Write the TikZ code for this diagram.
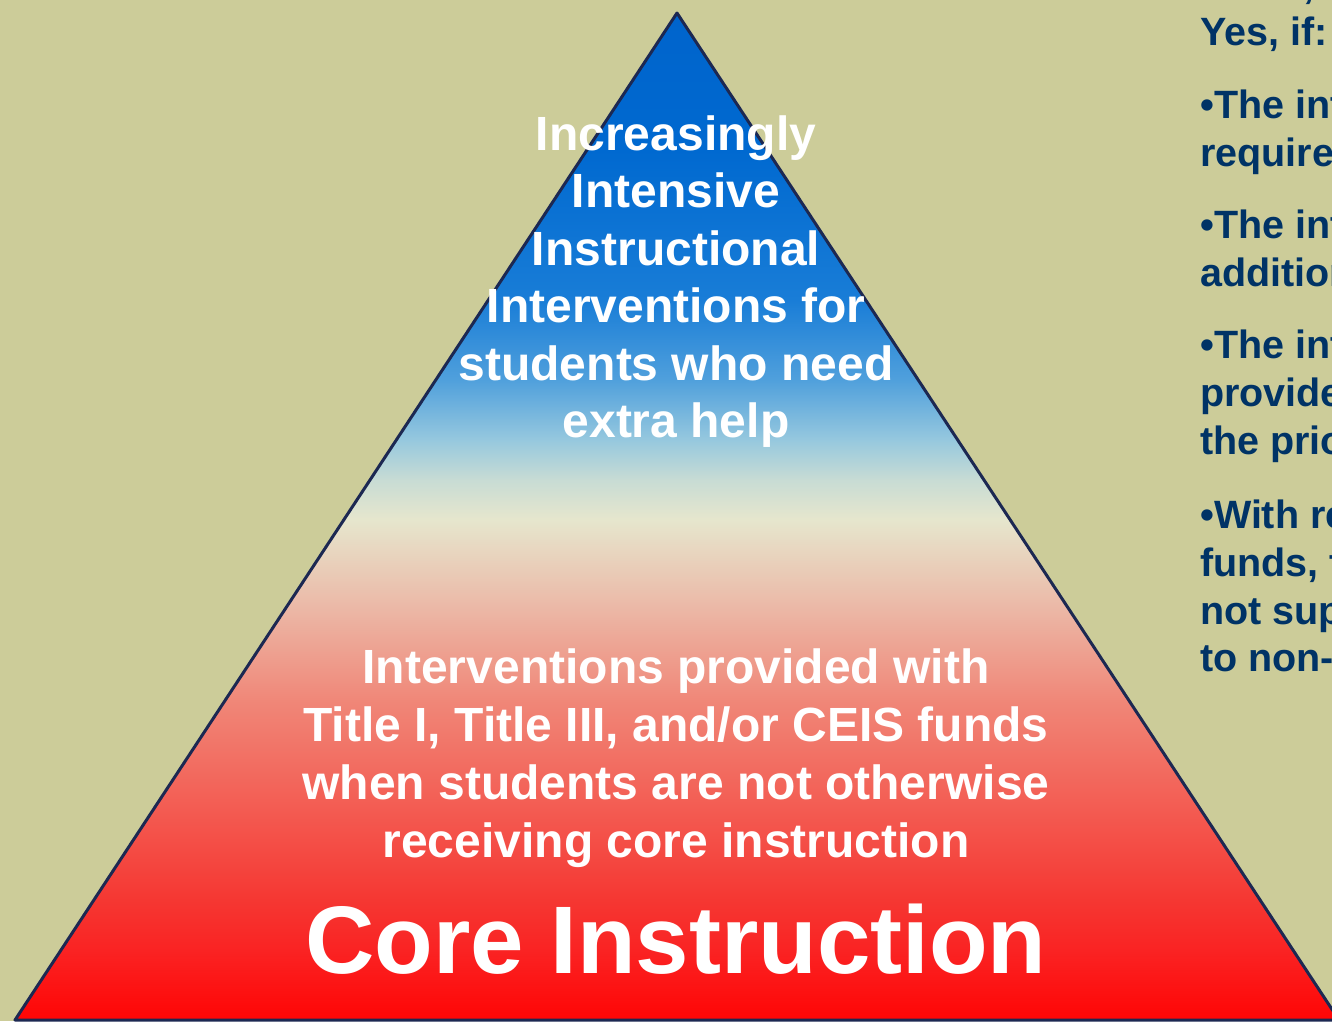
\documentclass[tikz,border=0pt]{standalone}
\usepackage{fontspec}
\setmainfont{Liberation Sans}
\definecolor{bgc}{RGB}{204,204,153}
\definecolor{navy}{RGB}{0,51,102}
\definecolor{edge}{RGB}{28,40,82}
\definecolor{s0}{RGB}{255,5,5}
\definecolor{s1}{RGB}{250,35,35}
\definecolor{s2}{RGB}{245,55,50}
\definecolor{s3}{RGB}{243,95,85}
\definecolor{s4}{RGB}{240,135,120}
\definecolor{s5}{RGB}{235,188,170}
\definecolor{s6}{RGB}{230,230,205}
\definecolor{s7}{RGB}{200,220,212}
\definecolor{s8}{RGB}{150,200,222}
\definecolor{s9}{RGB}{80,160,220}
\definecolor{s10}{RGB}{25,125,215}
\definecolor{s11}{RGB}{0,105,208}
\definecolor{s12}{RGB}{0,100,204}
\pgfdeclareverticalshading{pyr}{100bp}{color(0bp)=(s0); color(25bp)=(s0); color(28.48bp)=(s1); color(30.96bp)=(s2); color(35.92bp)=(s3); color(40.89bp)=(s4); color(45.85bp)=(s5); color(49.83bp)=(s6); color(51.81bp)=(s7); color(53.8bp)=(s8); color(56.78bp)=(s9); color(60.75bp)=(s10); color(68.2bp)=(s11); color(75bp)=(s12); color(100bp)=(s12)}
\tikzset{
  toptxt/.style={anchor=base, inner sep=0pt, text=white, font=\fontsize{48}{57}\selectfont\bfseries},
  lowtxt/.style={anchor=base, inner sep=0pt, text=white, font=\fontsize{48}{57}\selectfont\bfseries},
  coretxt/.style={anchor=base, inner sep=0pt, text=white, font=\fontsize{96}{110}\selectfont\bfseries},
  sidetxt/.style={anchor=base west, inner sep=0pt, text=navy, font=\fontsize{39.5}{48}\selectfont\bfseries},
}
\begin{document}
\begin{tikzpicture}[x=1pt,y=-1pt]
\useasboundingbox (0,0) rectangle (1332,1021);
\clip (0,0) rectangle (1332,1021);
\fill[bgc] (0,0) rectangle (1332,1021);
% pyramid
\coordinate (apex) at (677,13);
\coordinate (bl) at (15,1020);
\coordinate (br) at (1339,1020);
\shade[shading=pyr] (apex) -- (bl) -- (br) -- cycle;
\draw[edge, line width=3pt, line join=round] (apex) -- (bl) -- (br) -- cycle;
% upper text
\node[toptxt] (t1) at (676,150) {Increasingly};
\node[toptxt] (t2) at (676,207.5) {Intensive};
\node[toptxt] (t3) at (676,265) {Instructional};
\node[toptxt] (t4) at (676,322.5) {Interventions for};
\node[toptxt] (t5) at (676,380) {students who need};
\node[toptxt] (t6) at (676,437.5) {extra help};
% lower text
\node[lowtxt] (l1) at (676,683) {Interventions provided with};
\node[lowtxt] (l2) at (676,741) {Title I, Title III, and/or CEIS funds};
\node[lowtxt] (l3) at (676,799) {when students are not otherwise};
\node[lowtxt] (l4) at (676,857) {receiving core instruction};
\node[coretxt] (core) at (676,973) {Core Instruction};
% side text (cut off at right edge)
\node[sidetxt] (r0) at (1303,-2) {,};
\node[sidetxt] (r1) at (1200,45) {Yes, if:};
\node[sidetxt] (r2) at (1200,118) {•The intervention};
\node[sidetxt] (r3) at (1200,166) {required};
\node[sidetxt] (r4) at (1200,238) {•The intervention};
\node[sidetxt] (r5) at (1200,286) {additional};
\node[sidetxt] (r6) at (1200,358) {•The intervention};
\node[sidetxt] (r7) at (1200,406) {provided};
\node[sidetxt] (r8) at (1200,454) {the prior};
\node[sidetxt] (r9) at (1200,528) {•With regard};
\node[sidetxt] (r10) at (1200,576) {funds, the};
\node[sidetxt] (r11) at (1200,624) {not supplant};
\node[sidetxt] (r12) at (1200,671) {to non-};
\end{tikzpicture}
\end{document}
